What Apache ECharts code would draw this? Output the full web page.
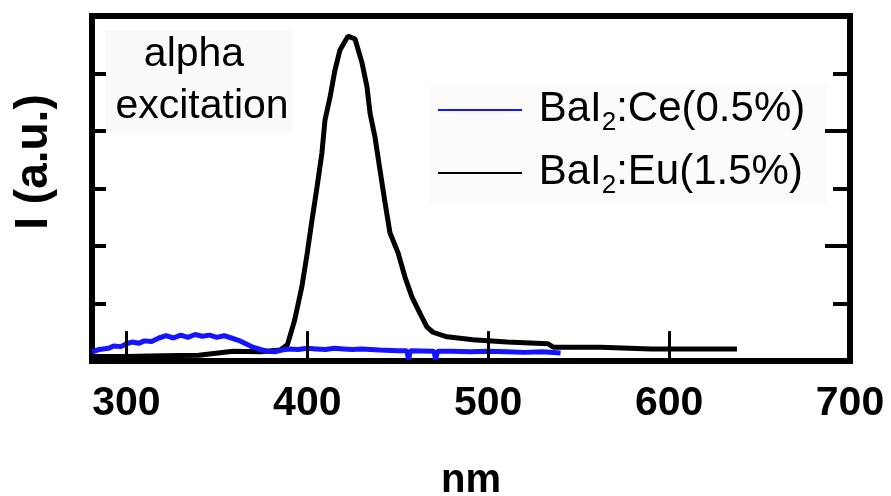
<!DOCTYPE html>
<html>
<head>
<meta charset="utf-8">
<script src="https://cdn.jsdelivr.net/npm/echarts@6/dist/echarts.min.js"></script>
<style>
html,body{margin:0;padding:0;background:#fff;}
#chart{width:891px;height:496px;}
</style>
</head>
<body>
<div id="chart"></div>
<script>
// ---- data ----
const xMin = 281, xMax = 700;
const yMin = 0, yMax = 6;
const xTickLabels = [300, 400, 500, 600, 700];
const xTickMarks = [300, 400, 500, 600];
const xTickTop = 0.52;
const seriesNames = ['BaI2:Ce(0.5%)', 'BaI2:Eu(1.5%)'];
const xAxisTitle = 'nm';
const yAxisTitle = 'I (a.u.)';
const noteLines = ['alpha', 'excitation'];

const ceData = [
  [281,0.16],[285,0.20],[290,0.22],[293,0.26],[297,0.25],[300,0.30],[303,0.33],[307,0.31],
  [310,0.35],[314,0.34],[318,0.40],[322,0.44],[326,0.40],[330,0.45],[334,0.41],[338,0.46],
  [342,0.43],[346,0.45],[350,0.41],[354,0.44],[358,0.40],[362,0.36],[366,0.30],[370,0.24],
  [374,0.20],[378,0.17],[382,0.16],[386,0.19],[390,0.21],[395,0.20],[400,0.22],[405,0.21],
  [410,0.20],[415,0.22],[420,0.21],[425,0.20],[430,0.21],[440,0.19],[450,0.18],[455,0.18],
  [456,0.03],[457,0.18],[470,0.17],[471,0.03],[472,0.17],[475,0.17],[480,0.17],[490,0.16],
  [500,0.17],[510,0.16],[520,0.15],[530,0.16],[540,0.14]
];

const euData = [
  [281,0.08],[300,0.08],[320,0.09],[340,0.10],[359,0.17],[374,0.16],[385,0.19],[389,0.28],
  [393,0.71],[397,1.29],[400,1.88],[402.6,2.45],[405.4,3.03],[408.1,3.62],[409.8,4.19],
  [412.6,4.59],[415.3,5.06],[418.1,5.41],[422.5,5.65],[426.4,5.60],[430.3,5.18],[433,4.77],
  [434.7,4.31],[437.4,3.90],[440.2,3.32],[443,2.75],[445.7,2.23],[450.2,1.88],[454,1.46],
  [457.9,1.11],[462.3,0.83],[466.2,0.59],[469.5,0.50],[477.2,0.42],[491.6,0.37],[510.4,0.33],
  [533,0.30],[536,0.24],[562,0.24],[590,0.21],[617,0.21],[637.5,0.21]
];

// ---- chart ----
const chart = echarts.init(document.getElementById('chart'), null, {renderer: 'canvas'});
const FONT = '"Liberation Sans", Arial, sans-serif';

function legendFmt(name) {
  return '{n| BaI}{s|2}{n|' + name.slice(4) + '}';
}

const option = {
  backgroundColor: '#ffffff',
  animation: false,
  grid: {
    left: 92, right: 41, top: 16, bottom: 135,
    outerBoundsMode: 'none', containLabel: false,
    show: true, borderColor: '#000', borderWidth: 6, backgroundColor: 'transparent'
  },
  legend: {
    orient: 'vertical',
    left: 438, top: 88, padding: 0,
    icon: 'rect',
    itemWidth: 84, itemHeight: 2, itemGap: 15,
    data: seriesNames,
    formatter: legendFmt,
    textStyle: {
      color: '#000',
      rich: {
        n: {fontSize: 42, fontFamily: FONT, color: '#000', lineHeight: 44, verticalAlign: 'top'},
        s: {fontSize: 26, fontFamily: FONT, color: '#000', lineHeight: 26, verticalAlign: 'top', padding: [22, 0, 0, 0]}
      }
    }
  },
  xAxis: {
    type: 'value', min: xMin, max: xMax,
    axisLine: {show: false},
    splitLine: {show: false},
    axisTick: {show: false},
    axisLabel: {customValues: xTickLabels, fontSize: 41, fontWeight: 'bold', color: '#000', margin: 22, fontFamily: FONT, hideOverlap: false},
    name: xAxisTitle, nameLocation: 'middle', nameGap: 100,
    nameTextStyle: {fontSize: 40, fontWeight: 'bold', color: '#000', fontFamily: FONT}
  },
  yAxis: [
    {
      type: 'value', min: yMin, max: yMax, interval: 1, position: 'left',
      axisLine: {show: false}, splitLine: {show: false},
      axisTick: {show: true, inside: true, length: 14, lineStyle: {color: '#000', width: 4}},
      axisLabel: {show: false},
      name: yAxisTitle, nameLocation: 'middle', nameGap: 35, nameRotate: 90,
      nameTextStyle: {fontSize: 46, fontWeight: 'bold', color: '#000', fontFamily: FONT, padding: [0, 0, 0, 53]}
    },
    {
      type: 'value', min: yMin, max: yMax, position: 'right',
      axisLine: {show: false}, splitLine: {show: false},
      axisTick: {show: true, inside: true, length: 17, lineStyle: {color: '#000', width: 4}, customValues: [1, 3, 5]},
      axisLabel: {show: false}
    },
    {
      type: 'value', min: yMin, max: yMax, position: 'right',
      axisLine: {show: false}, splitLine: {show: false},
      axisTick: {show: true, inside: true, length: 25, lineStyle: {color: '#000', width: 4}, customValues: [2, 4]},
      axisLabel: {show: false}
    }
  ],
  graphic: [
    {type: 'rect', z: 0, shape: {x: 105, y: 30, width: 188, height: 103}, style: {fill: '#fafafa'}},
    {type: 'rect', z: 0, shape: {x: 430, y: 85, width: 397, height: 120}, style: {fill: '#fbfbfb'}},
    {type: 'text', z: 5, x: 194, y: 55, style: {text: noteLines[0], font: '41px ' + FONT, fill: '#000', align: 'center', verticalAlign: 'middle'}},
    {type: 'text', z: 5, x: 202, y: 107, style: {text: noteLines[1], font: '41px ' + FONT, fill: '#000', align: 'center', verticalAlign: 'middle'}}
  ],
  series: [
    {
      name: seriesNames[1], type: 'line', data: euData, yAxisIndex: 0,
      showSymbol: false, symbol: 'none', z: 2,
      lineStyle: {color: '#000', width: 5}, itemStyle: {color: '#000'},
      markLine: {
        silent: true, symbol: 'none', animation: false,
        label: {show: false},
        lineStyle: {color: '#000', width: 3, type: 'solid'},
        emphasis: {disabled: true},
        data: xTickMarks.map(v => [{coord: [v, yMin]}, {coord: [v, xTickTop]}])
      }
    },
    {
      name: seriesNames[0], type: 'line', data: ceData, yAxisIndex: 0,
      showSymbol: false, symbol: 'none', z: 3,
      lineStyle: {color: '#1414ff', width: 5}, itemStyle: {color: '#1414ff'}
    }
  ]
};
chart.setOption(option);
</script>
</body>
</html>
